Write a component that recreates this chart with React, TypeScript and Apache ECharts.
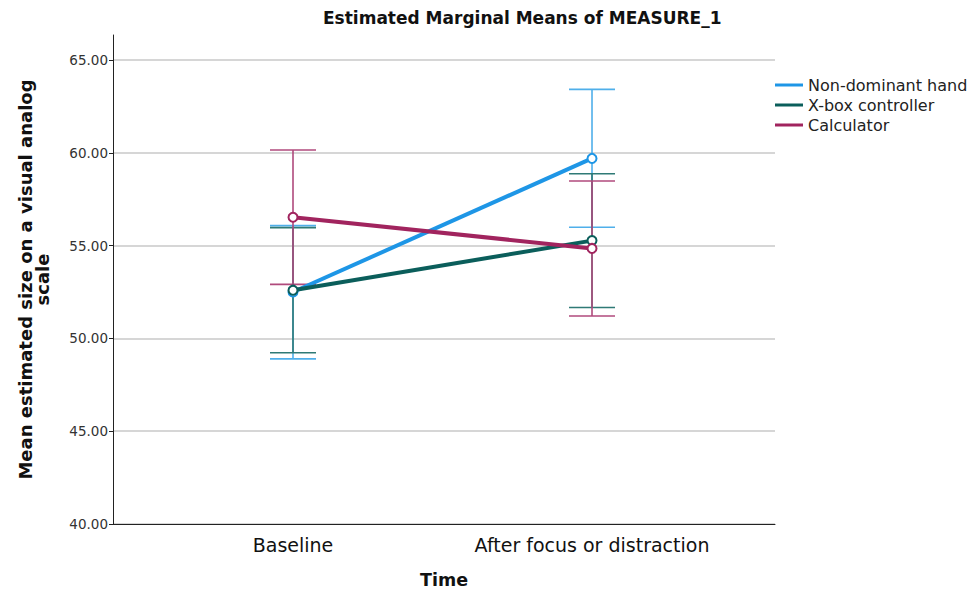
import React, { useEffect, useRef } from "react";
import * as echarts from "echarts";

const CATEGORIES = ["Baseline", "After focus or distraction"];
const SERIES_NAMES = ["Non-dominant hand", "X-box controller", "Calculator"];
const NONDOM_MEAN = [52.5, 59.7];
const NONDOM_LOW = [48.9, 55.99];
const NONDOM_HIGH = [56.08, 63.42];
const XBOX_MEAN = [52.6, 55.27];
const XBOX_LOW = [49.23, 51.67];
const XBOX_HIGH = [55.97, 58.87];
const CALC_MEAN = [56.53, 54.85];
const CALC_LOW = [52.91, 51.21];
const CALC_HIGH = [60.15, 58.48];
const Y_TICKS = [40, 45, 50, 55, 60, 65];
const X_TICKS = [0, 1];

const LINE_COLORS = ["#1E96E6", "#0B5E5B", "#A1245E"];
const BAR_COLORS = ["#4FAFEA", "#2F7A76", "#B04A7C"];

export default function App() {
  const ref = useRef<HTMLDivElement>(null);
  useEffect(() => {
    if (!ref.current) return;
    const chart = echarts.init(ref.current, null, { renderer: "svg" });
    const means = [NONDOM_MEAN, XBOX_MEAN, CALC_MEAN];
    const lows = [NONDOM_LOW, XBOX_LOW, CALC_LOW];
    const highs = [NONDOM_HIGH, XBOX_HIGH, CALC_HIGH];
    const font = "DejaVu Sans";

    const errSeries = SERIES_NAMES.map((name, si) => ({
      type: "custom",
      name: name + " CI",
      z: 1,
      data: CATEGORIES.map((_, i) => [i, lows[si][i], highs[si][i]]),
      renderItem: (params: any, api: any) => {
        const x = api.value(0);
        const lo = api.coord([x, api.value(1)]);
        const hi = api.coord([x, api.value(2)]);
        const hw = 23;
        const style = { stroke: BAR_COLORS[si], lineWidth: 1.6 };
        return {
          type: "group",
          children: [
            { type: "line", shape: { x1: lo[0], y1: lo[1], x2: hi[0], y2: hi[1] }, style },
            { type: "line", shape: { x1: lo[0] - hw, y1: lo[1], x2: lo[0] + hw, y2: lo[1] }, style },
            { type: "line", shape: { x1: hi[0] - hw, y1: hi[1], x2: hi[0] + hw, y2: hi[1] }, style },
          ],
        };
      },
    }));

    const lineSeries = SERIES_NAMES.map((name, si) => ({
      type: "line",
      name,
      z: 3,
      data: CATEGORIES.map((_, i) => [i, means[si][i]]),
      symbol: "emptyCircle",
      symbolSize: 9,
      lineStyle: { color: LINE_COLORS[si], width: 4 },
      itemStyle: { color: LINE_COLORS[si], borderWidth: 1.5 },
    }));

    chart.setOption({
      animation: false,
      backgroundColor: "#ffffff",
      title: {
        text: "Estimated Marginal Means of MEASURE_1",
        left: 318,
        top: 4,
        textStyle: { fontFamily: font, fontSize: 17, fontWeight: "bold", color: "#111" },
      },
      legend: {
        orient: "vertical",
        left: 770,
        top: 72,
        itemWidth: 28,
        itemHeight: 3,
        itemGap: 4,
        icon: "rect",
        data: SERIES_NAMES.map((n, i) => ({ name: n, itemStyle: { color: LINE_COLORS[i] } })),
        textStyle: { fontFamily: font, fontSize: 16, color: "#222" },
      },
      grid: { left: 113, right: 199, top: 35, bottom: 71 },
      xAxis: {
        type: "value",
        min: -0.602,
        max: 1.612,
        name: "Time",
        nameLocation: "middle",
        nameGap: 47,
        nameTextStyle: { fontFamily: font, fontSize: 17.5, fontWeight: "bold", color: "#111" },
        axisLine: { show: true, onZero: false, lineStyle: { color: "#222", width: 1 } },
        axisTick: { show: false },
        splitLine: { show: false },
        axisLabel: {
          customValues: X_TICKS,
          formatter: (v: number) => CATEGORIES[Math.round(v)] ?? "",
          fontFamily: font,
          fontSize: 19,
          color: "#111",
          margin: 11,
        },
      },
      yAxis: {
        type: "value",
        min: 40,
        max: 66.35,
        name: "Mean estimated size on a visual analog\nscale",
        nameLocation: "middle",
        nameRotate: 90,
        nameGap: 62,
        nameTextStyle: {
          fontFamily: font,
          fontSize: 18,
          fontWeight: "bold",
          color: "#111",
          align: "center",
          lineHeight: 17,
        },
        axisLine: { show: true, onZero: false, lineStyle: { color: "#222", width: 1 } },
        axisTick: { show: true, customValues: Y_TICKS, length: 4, lineStyle: { color: "#222" } },
        axisLabel: {
          customValues: Y_TICKS,
          formatter: (v: number) => v.toFixed(2),
          fontFamily: font,
          fontSize: 13.5,
          color: "#333",
          margin: 5,
        },
        splitLine: { show: true, lineStyle: { color: "#c8c8c8", width: 1.5 } },
      },
      series: [...errSeries, ...lineSeries],
    });
    return () => chart.dispose();
  }, []);
  return <div ref={ref} style={{ width: 974, height: 595, position: "absolute", left: 0, top: 0 }} />;
}
